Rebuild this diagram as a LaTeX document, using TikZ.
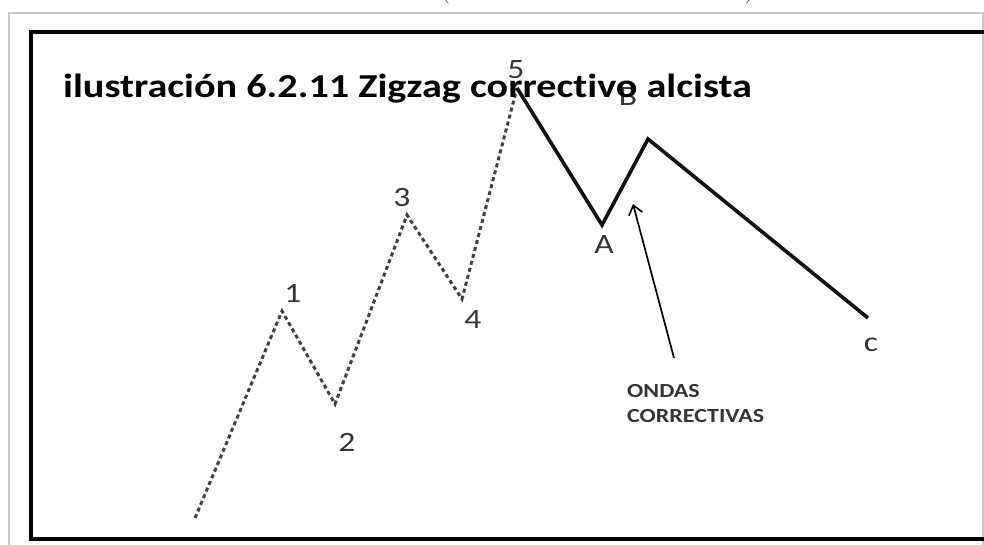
\documentclass[tikz,border=0pt]{standalone}
\usepackage{fontspec}
\usepackage{tikz}
\usetikzlibrary{arrows.meta,positioning}
\usepackage{xcolor}
\newfontfamily\calib[FakeStretch=1.2,Ligatures=NoCommon]{Carlito}
\definecolor{ink}{HTML}{111111}
\definecolor{lbl}{HTML}{353535}
\definecolor{wave}{HTML}{404040}
\definecolor{rim}{HTML}{c8c8c8}
\definecolor{pin}{HTML}{5a5a5a}

\begin{document}
\begin{tikzpicture}[x=1pt,y=-1pt,
   w/.style={wave,line width=3pt,dash pattern=on 4pt off 3.2pt},
   c/.style={ink,line width=3.6pt,line join=miter},
   l/.style={lbl,inner sep=0pt,font=\calib\fontsize{28}{30}\selectfont},
   a/.style={-{Straight Barb[length=9pt,width=14pt,line width=1.6pt]},line width=1.7pt,pin}]
  \useasboundingbox (0,0) rectangle (984,544);
  \clip (0,0) rectangle (984,544);
  % frames
  \draw[rim,line width=1.8pt] (9,13) rectangle (983,600);
  \draw[black,line width=4.2pt] (31,32) rectangle (1020,539);
  \node[lbl,inner sep=0pt,anchor=south,font=\fontsize{30}{32}\selectfont] (lp) at (445,4.5) {(};
  \node[lbl,inner sep=0pt,anchor=south,font=\fontsize{30}{32}\selectfont] (rp) at (750,4.5) {)};
  % impulse
  \coordinate (p0) at (195,518);
  \coordinate (p1) at (282,311);
  \coordinate (p2) at (335,404);
  \coordinate (p3) at (407,215);
  \coordinate (p4) at (462,299);
  \coordinate (p5) at (517,88);
  \draw[w] (p0) -- (p1) -- (p2) -- (p3) -- (p4) -- (p5);
  % correction
  \coordinate (pa) at (602,225);
  \coordinate (pb) at (648,139);
  \coordinate (pc) at (868,318);
  \draw[c] (p5) -- (pa) -- (pb) -- (pc);
  \node[l] (n1) at (293,293) {1};
  \node[l] (n2) at (347,442) {2};
  \node[l] (n3) at (402,198) {3};
  \node[l] (n4) at (473,320) {4};
  \node[l] (n5) at (516,70) {5};
  \node[l] (na) at (604,245) {A};
  \node[l] (nb) at (628,97) {B};
  \node[l] (nc) at (871,345) {c};
  \node[anchor=base west,inner sep=0pt,black,font=\calib\bfseries\fontsize{33.5}{40}\selectfont] (ttl) at (63,97) {ilustración 6.2.11 Zigzag correctivo alcista};
  \node[anchor=north west,inner sep=0pt,lbl,align=left,font=\calib\bfseries\fontsize{20}{25}\selectfont] (note) at (627,384) {ONDAS\\CORRECTIVAS};
  \coordinate (tail) at (674,358);
  \coordinate (tip) at (633,204);
  \draw[a] (tail) -- (tip);
\end{tikzpicture}
\end{document}
